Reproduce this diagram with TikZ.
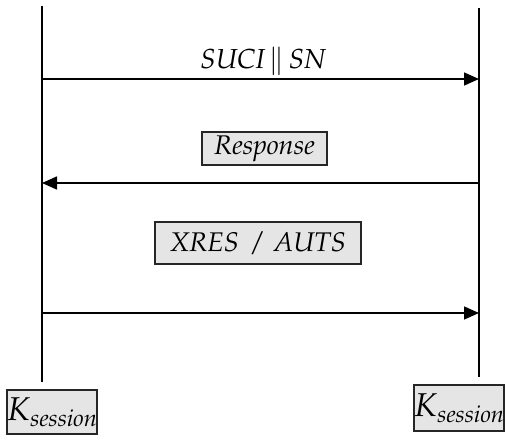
\documentclass[tikz,border=0pt]{standalone}
\usepackage[T1]{fontenc}
\usepackage{mathpazo}
\usetikzlibrary{arrows.meta}
\tikzset{
  life/.style={line width=1.6pt},
  msg/.style={line width=1.6pt,-{Triangle[length=15pt,width=13pt]}},
  lbl/.style={font=\fontsize{27.5}{30}\selectfont\itshape, inner sep=0pt},
  gbox/.style={draw=black!85, fill=black!10, line width=1.1pt, inner sep=0pt,
    font=\fontsize{27}{30}\selectfont\itshape},
}
\begin{document}
\begin{tikzpicture}[x=1pt,y=-1pt]
\useasboundingbox (0,0) rectangle (506,436);
% lifelines
\coordinate (lt) at (42,6);
\coordinate (lb) at (42,382);
\coordinate (rt) at (479,8);
\coordinate (rb) at (479,377);
\draw[life] (lt) -- (lb);
\draw[life] (rt) -- (rb);
% message endpoints
\coordinate (a1) at (42,79);
\coordinate (b1) at (479,79);
\coordinate (a2) at (42,183);
\coordinate (b2) at (479,183);
\coordinate (a3) at (42,313);
\coordinate (b3) at (479,313);
\draw[msg] (a1) -- (b1);
\draw[msg] (b2) -- (a2);
\draw[msg] (a3) -- (b3);
% labels
\node[lbl] (l1) at (263,61) {SUCI\,$\|$\,SN};
\node[gbox, minimum width=125pt, minimum height=33pt] (l2) at (264.5,148.5) {Response};
\node[gbox, minimum width=206pt, minimum height=42pt] (l3) at (258,243) {XRES~~/~~AUTS};
% keys
\node[gbox, minimum width=90pt, minimum height=44pt] (kl) at (52,412)
  {\fontsize{33}{36}\selectfont$K$\raisebox{-6pt}{\fontsize{23.5}{26}\selectfont\itshape session}};
\node[gbox, minimum width=90pt, minimum height=46pt] (kr) at (459,408)
  {\fontsize{33}{36}\selectfont$K$\raisebox{-6pt}{\fontsize{23.5}{26}\selectfont\itshape session}};
\end{tikzpicture}
\end{document}
